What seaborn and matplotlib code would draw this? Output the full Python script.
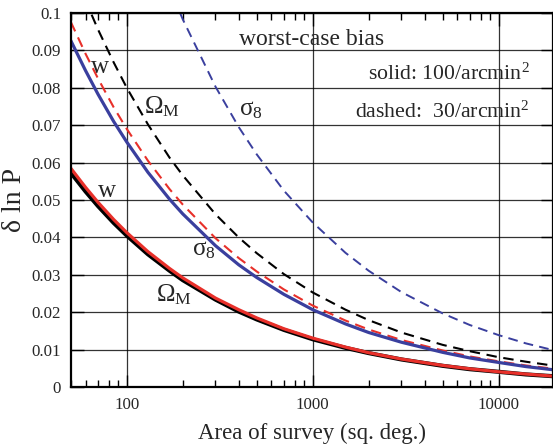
import matplotlib
matplotlib.use("Agg")
import matplotlib.pyplot as plt
import seaborn as sns
import pandas as pd
from matplotlib.ticker import FixedLocator, LogLocator, NullFormatter

area = [50, 60, 70, 85, 100, 130, 170, 200, 300, 400, 500, 700, 1000,
        1500, 2000, 3000, 5000, 7000, 10000, 14000, 20000]

# solid: 100/arcmin^2
omega_solid = [0.0573, 0.0523, 0.0484, 0.0439, 0.0405, 0.0355, 0.0311, 0.0286,
               0.0234, 0.0202, 0.0181, 0.0153, 0.0128, 0.0105, 0.0091, 0.0074,
               0.0057, 0.0048, 0.0041, 0.0034, 0.0029]
w_solid = [0.0585, 0.0534, 0.0494, 0.0448, 0.0413, 0.0362, 0.0317, 0.0292,
           0.0238, 0.0207, 0.0185, 0.0156, 0.0131, 0.0107, 0.0092, 0.0075,
           0.0058, 0.0049, 0.0041, 0.0035, 0.0029]
sigma_solid = [0.0926, 0.0846, 0.0783, 0.0710, 0.0655, 0.0574, 0.0502, 0.0463,
               0.0378, 0.0327, 0.0293, 0.0248, 0.0207, 0.0169, 0.0146, 0.0120,
               0.0093, 0.0078, 0.0066, 0.0055, 0.0046]

# dashed: 30/arcmin^2
w_dashed = [0.0976, 0.0891, 0.0825, 0.0748, 0.0690, 0.0605, 0.0529, 0.0488,
            0.0398, 0.0345, 0.0309, 0.0261, 0.0218, 0.0178, 0.0154, 0.0126,
            0.0098, 0.0082, 0.0069, 0.0058, 0.0049]
omega_dashed = [0.1131, 0.1033, 0.0956, 0.0868, 0.0800, 0.0702, 0.0613, 0.0566,
                0.0462, 0.0400, 0.0358, 0.0302, 0.0253, 0.0207, 0.0179, 0.0146,
                0.0113, 0.0096, 0.0080, 0.0068, 0.0057]
sigma_dashed = [0.1966, 0.1794, 0.1661, 0.1508, 0.1390, 0.1219, 0.1066, 0.0983,
                0.0803, 0.0695, 0.0622, 0.0525, 0.0440, 0.0359, 0.0311, 0.0254,
                0.0197, 0.0166, 0.0139, 0.0117, 0.0098]

BLUE = "#3a3f9e"
RED = "#e8302a"

rows = []
for name, vals in [("omega_solid", omega_solid), ("w_solid", w_solid),
                   ("sigma_solid", sigma_solid), ("w_dashed", w_dashed),
                   ("omega_dashed", omega_dashed), ("sigma_dashed", sigma_dashed)]:
    for a, v in zip(area, vals):
        rows.append({"area": a, "dlnP": v, "curve": name})
df = pd.DataFrame(rows)

sns.set_style("ticks")
plt.rcParams["font.family"] = ["Liberation Serif", "DejaVu Serif"]
plt.rcParams["mathtext.fontset"] = "custom"
plt.rcParams["mathtext.rm"] = "Liberation Serif"
plt.rcParams["mathtext.it"] = "Liberation Serif"
plt.rcParams["mathtext.default"] = "regular"

fig = plt.figure(figsize=(5.53, 4.45), dpi=100)
ax = fig.add_axes([0.128, 0.130, 0.872, 0.841])

styles = {
    "omega_dashed": ("black", (0, (5, 3.2)), 1.5),
    "sigma_dashed": (BLUE, (0, (5, 3.2)), 1.4),
    "w_dashed": (RED, (0, (5, 3.2)), 1.5),
    "sigma_solid": (BLUE, "-", 2.3),
    "omega_solid": ("black", "-", 3.0),
    "w_solid": (RED, "-", 2.3),
}
for name, (col, ls, lw) in styles.items():
    sns.lineplot(data=df[df["curve"] == name], x="area", y="dlnP", ax=ax,
                 color=col, linestyle=ls, linewidth=lw, legend=False)

ax.set_xscale("log")
ax.set_xlim(50, 19600)
ax.set_ylim(0, 0.1)

ax.xaxis.set_major_locator(FixedLocator([100, 1000, 10000]))
ax.set_xticklabels(["100", "1000", "10000"])
ax.xaxis.set_minor_locator(LogLocator(base=10, subs=range(2, 10)))
ax.xaxis.set_minor_formatter(NullFormatter())
ax.set_yticks([0, 0.01, 0.02, 0.03, 0.04, 0.05, 0.06, 0.07, 0.08, 0.09, 0.1])
ax.set_yticklabels(["0", "0.01", "0.02", "0.03", "0.04", "0.05", "0.06",
                    "0.07", "0.08", "0.09", "0.1"])

ax.tick_params(which="both", direction="in", top=True, right=True,
               labelsize=12.2, width=1.0, color="black")
ax.tick_params(which="major", length=9, pad=7)
ax.tick_params(which="minor", length=5)
for s in ax.spines.values():
    s.set_linewidth(1.6)
    s.set_color("black")

ax.grid(True, which="major", color="black", linewidth=0.9, alpha=0.8)
ax.set_axisbelow(True)

ax.set_xlabel("Area of survey (sq. deg.)", fontsize=16.5, labelpad=7)
ax.set_ylabel("δ ln P", fontsize=20, labelpad=3)

ax.text(400, 0.0928, "worst-case bias", fontsize=17, va="center", ha="left")
ax.text(14700, 0.0836, r"solid: 100/arcmin$^2$", fontsize=15.7, va="center", ha="right")
ax.text(14700, 0.0735, r"dashed:  30/arcmin$^2$", fontsize=15.7, va="center", ha="right")

lab = 18
ax.text(72, 0.0856, "w", fontsize=lab, ha="center", va="center")
ax.text(78, 0.0524, "w", fontsize=lab, ha="center", va="center")
ax.text(124, 0.0750, r"$\Omega_{M}$", fontsize=lab, ha="left", va="center")
ax.text(144, 0.0247, r"$\Omega_{M}$", fontsize=lab, ha="left", va="center")
ax.text(400, 0.0740, r"$\sigma_8$", fontsize=lab, ha="left", va="center")
ax.text(225, 0.0366, r"$\sigma_8$", fontsize=lab, ha="left", va="center")

fig.savefig("out.png", dpi=100)
